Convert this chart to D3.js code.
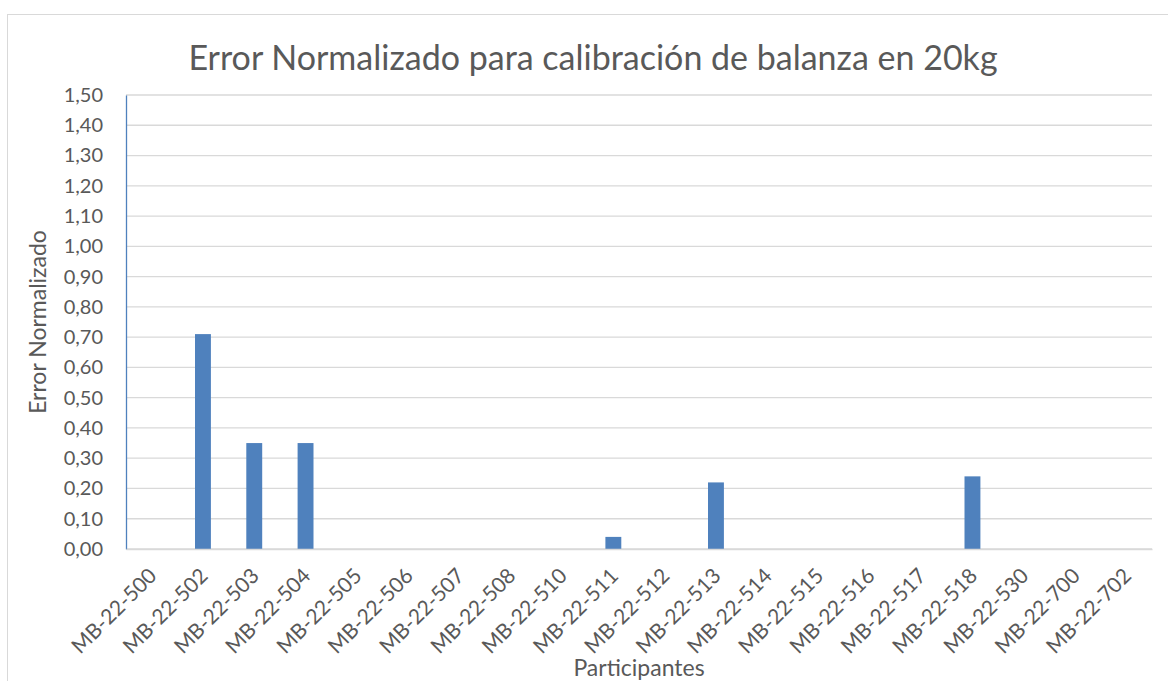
<!DOCTYPE html>
<html><head><meta charset="utf-8">
<script src="https://cdn.jsdelivr.net/npm/d3@7"></script>
<style>body{margin:0;background:#fff;}svg{display:block;}text{font-family:Lato,"Open Sans",sans-serif;fill:#595959;}</style>
</head><body>
<svg id="c" width="1168" height="681"></svg>
<script>
const categories = ["MB-22-500","MB-22-502","MB-22-503","MB-22-504","MB-22-505","MB-22-506","MB-22-507","MB-22-508","MB-22-510","MB-22-511","MB-22-512","MB-22-513","MB-22-514","MB-22-515","MB-22-516","MB-22-517","MB-22-518","MB-22-530","MB-22-700","MB-22-702"];
const values = [0,0.71,0.35,0.35,0,0,0,0,0,0.04,0,0.22,0,0,0,0,0.24,0,0,0];
const yTicks = [0,0.1,0.2,0.3,0.4,0.5,0.6,0.7,0.8,0.9,1.0,1.1,1.2,1.3,1.4,1.5];
const title = "Error Normalizado para calibración de balanza en 20kg";
const yTitle = "Error Normalizado";
const xTitle = "Participantes";

const svg = d3.select("#c");
const L = 126, R = 1152, T = 95, B = 549;
svg.append("rect").attr("x",7.5).attr("y",14.5).attr("width",1170).attr("height",700)
  .attr("fill","#fff").attr("stroke","#d9d9d9");

const x = d3.scaleBand().domain(categories).range([L,R]).paddingInner(0.69).paddingOuter(0.345);
const y = d3.scaleLinear().domain([0,1.5]).range([B,T]);

const fmt = v => v.toFixed(2).replace(".", ",");
svg.append("g").selectAll("line").data(yTicks).join("line")
  .attr("x1",L).attr("x2",R).attr("y1",d=>y(d)).attr("y2",d=>y(d))
  .attr("stroke","#d9d9d9").attr("stroke-width",1.3);

const yAxis = svg.append("g").attr("transform",`translate(${L},0)`)
  .call(d3.axisLeft(y).tickValues(yTicks).tickFormat(fmt).tickSize(0).tickPadding(23));
yAxis.select(".domain").attr("stroke","#4f81bd").attr("stroke-width",1.3);
yAxis.selectAll("text").attr("font-size",20).style("fill","#595959").attr("font-family","Lato,'Open Sans',sans-serif");

svg.append("g").selectAll("rect").data(categories.map((c,i)=>({c,v:values[i]})).filter(d=>d.v>0)).join("rect")
  .attr("x",d=>x(d.c)).attr("width",x.bandwidth())
  .attr("y",d=>y(d.v)).attr("height",d=>y(0)-y(d.v)).attr("fill","#4f81bd");

const xAxis = svg.append("g").attr("transform",`translate(0,${B})`)
  .call(d3.axisBottom(x).tickSize(0).tickPadding(0));
xAxis.select(".domain").attr("stroke","#d9d9d9").attr("stroke-width",1.3);
xAxis.selectAll("text").attr("font-size",21).style("fill","#595959").attr("font-family","Lato,'Open Sans',sans-serif")
  .attr("text-anchor","end").attr("dy","0.35em").attr("y",0).attr("x",0)
  .attr("transform","translate(1,23) rotate(-45)");

svg.append("text").attr("x",593).attr("y",70).attr("text-anchor","middle").attr("font-size",34).text(title);
svg.append("text").attr("transform","translate(46,322) rotate(-90)").attr("text-anchor","middle").attr("font-size",23).text(yTitle);
svg.append("text").attr("x",639).attr("y",676).attr("text-anchor","middle").attr("font-size",23).text(xTitle);
</script>
</body></html>
